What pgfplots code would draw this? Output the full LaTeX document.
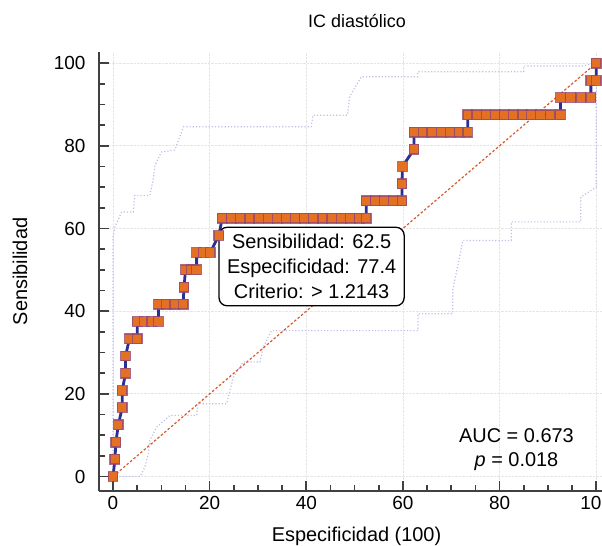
\documentclass[border=0pt]{standalone}
\usepackage{fontspec}
\setmainfont{Liberation Sans}
\usepackage{pgfplots}
\pgfplotsset{compat=1.18}

\definecolor{rocline}{RGB}{45,45,150}
\definecolor{rocfill}{RGB}{228,112,36}
\definecolor{rocedge}{RGB}{150,70,110}
\definecolor{diag}{RGB}{215,90,45}
\definecolor{band}{RGB}{190,190,230}
\definecolor{axgray}{RGB}{64,64,64}

\begin{document}
\begin{tikzpicture}
\begin{axis}[
  name=ax,
  scale only axis,
  width=503bp, height=439bp,
  xmin=-2.9, xmax=101.2, ymin=-3.5, ymax=102.7,
  axis x line*=bottom, axis y line*=left,
  axis line style={axgray, line width=2bp},
  xtick={0,20,...,100}, ytick={0,20,...,100},
  minor tick num=3,
  major tick length=10bp, minor tick length=6bp,
  tick style={axgray, line width=1.6bp},
  grid=major, grid style={densely dotted, black!10, line width=0.8bp},
  tick label style={font=\fontsize{19}{22}\selectfont},
  /pgf/number format/assume math mode=true,
  xticklabel style={yshift=-2bp},
  yticklabel style={xshift=-10bp},
  xlabel={Especificidad (100)}, ylabel={Sensibilidad},
  label style={font=\fontsize{20}{24}\selectfont},
  xlabel style={at={(axis description cs:0.512,-0.104)}, anchor=center},
  ylabel style={at={(axis description cs:-0.157,0.5)}, anchor=center},
  title={IC diastólico},
  title style={font=\fontsize{18}{21}\selectfont, at={(axis description cs:0.513,1.043)}, anchor=base},
  clip=false,
]
% upper confidence band
\addplot[band, dotted, line width=1.2bp] coordinates {
  (0,0)(0,58)(0.4,60.4)(1.8,64)(4.2,64)(4.5,68)(7.6,68)(8.3,71.7)(8.7,75.3)
  (10,78.5)(12.8,79)(13.8,82.2)(14.6,84.6)(41,84.6)(41.4,87.4)(48.5,87.4)
  (49,92)(51.4,96.7)(63,96.7)(63,97.9)(85,97.9)(85,99.3)(97,99.3)(100,100)};
% lower confidence band
\addplot[band, dotted, line width=1.2bp] coordinates {
  (0,0)(5.6,0)(6.6,2.3)(7.3,5.5)(7.6,8.7)(9,11.9)(11.8,14.8)(17.3,14.8)
  (17.6,17.6)(23.5,17.6)(24.9,24)(26.9,27.7)(30.4,27.7)(31.1,31.3)(32.8,35.3)
  (63.1,35.3)(63.1,39.4)(70.3,39.4)(70.3,45)(72.4,57.1)(82.4,57.1)(82.4,61.6)
  (96.8,61.6)(96.8,67.6)(100,70)(100,100)};
% reference diagonal
\addplot[diag, dash pattern=on 2.5bp off 2bp, line width=1.2bp] coordinates {(0,0)(100,100)};
% ROC curve
\addplot[rocline, line width=2.8bp, mark=square*, mark size=4.8bp,
  mark options={fill=rocfill, draw=rocedge, line width=1.3bp, draw opacity=0.8}]
  coordinates {
  (0,0)(0.4,4.17)(0.6,8.33)(1.1,12.5)(1.9,16.67)(1.9,20.83)(2.6,25)(2.6,29.17)
  (3.4,33.33)(5.0,33.33)
  (5.0,37.5)(6.5,37.5)(8.0,37.5)(9.4,37.5)
  (9.4,41.67)(11.1,41.67)(12.8,41.67)(14.5,41.67)
  (14.7,45.83)
  (15.0,50)(16.2,50)(17.3,50)
  (17.3,54.17)(18.7,54.17)(20.1,54.17)
  (21.9,58.33)
  (22.6,62.5)(24.5,62.5)(26.4,62.5)(28.3,62.5)(30.2,62.5)(32.1,62.5)(34.0,62.5)
  (35.8,62.5)(37.7,62.5)(39.6,62.5)(41.5,62.5)(43.4,62.5)(45.3,62.5)(47.2,62.5)
  (49.1,62.5)(51.0,62.5)(52.4,62.5)
  (52.4,66.67)(54.3,66.67)(56.2,66.67)(58.0,66.67)(59.8,66.67)
  (59.8,70.83)(59.9,75)(62.3,79.17)
  (62.3,83.33)(64.2,83.33)(66.0,83.33)(67.9,83.33)(69.8,83.33)(71.7,83.33)(73.4,83.33)
  (73.4,87.5)(75.3,87.5)(77.2,87.5)(79.1,87.5)(81.0,87.5)(82.9,87.5)(84.8,87.5)
  (86.6,87.5)(88.5,87.5)(90.5,87.5)(92.6,87.5)
  (92.6,91.67)(94.7,91.67)(96.8,91.67)(98.9,91.67)
  (98.9,95.83)(100,95.83)
  (100,100)};
\node[draw=black, line width=1.3bp, fill=white, rounded corners=8bp, align=center,
  font=\fontsize{20}{25}\selectfont, inner xsep=8bp, inner ysep=7bp]
  at (axis cs:41.1,50.8)
  {Sensibilidad: 62.5\\Especificidad: 77.4\\Criterio: \textgreater{} 1.2143};
\node[align=center, font=\fontsize{20}{24}\selectfont]
  at (axis cs:83.5,6.5) {AUC = 0.673\\\textit{p} = 0.018};
\end{axis}
\pgfresetboundingbox
\path[use as bounding box] ([xshift=-99bp,yshift=-55bp]ax.south west) rectangle ([yshift=52bp]ax.north east);
\end{tikzpicture}
\end{document}
